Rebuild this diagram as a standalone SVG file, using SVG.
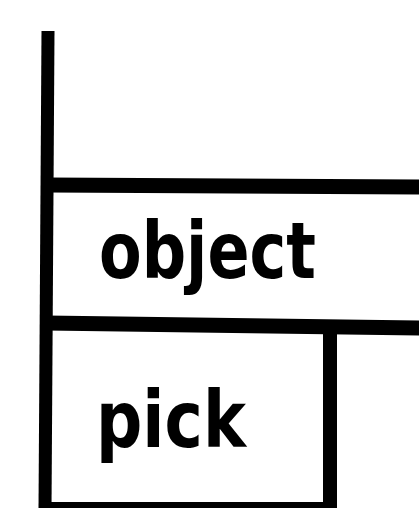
<svg xmlns="http://www.w3.org/2000/svg" width="419" height="508" viewBox="0 0 419 508">
<style>
.ln{stroke:#000;fill:none;stroke-linecap:butt}
.lbl{font-family:"DejaVu Sans",Verdana,sans-serif;font-weight:bold;font-size:78px;fill:#000}
</style>
<rect width="419" height="508" fill="#fff"/>
<g id="frame">
<line class="ln" x1="48" y1="31" x2="45" y2="510" stroke-width="13" stroke-linecap="round"/>
<line class="ln" x1="48" y1="185" x2="425" y2="187" stroke-width="15"/>
<line class="ln" x1="46" y1="323" x2="425" y2="328" stroke-width="15"/>
<line class="ln" x1="330" y1="324" x2="330" y2="510" stroke-width="14"/>
<line class="ln" x1="45" y1="507" x2="330" y2="507" stroke-width="10"/>
</g>
<g id="object">
<text class="lbl" x="99" y="278" textLength="217" lengthAdjust="spacingAndGlyphs">object</text>
</g>
<g id="pick">
<text class="lbl" x="96" y="447" textLength="150" lengthAdjust="spacingAndGlyphs">pick</text>
</g>
</svg>
